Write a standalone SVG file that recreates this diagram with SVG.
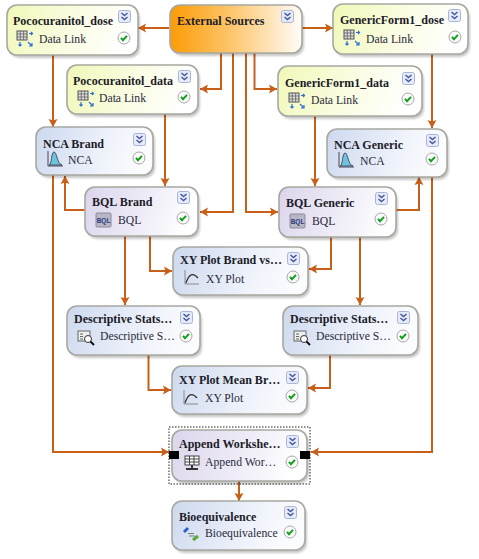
<svg xmlns="http://www.w3.org/2000/svg" width="479" height="559" viewBox="0 0 479 559">
<style>
.n{stroke:#a8a8a0;stroke-width:1.6}
.s{fill:#000;opacity:.22;filter:url(#blur)}
.t{font:bold 12px "Liberation Serif",serif;fill:#1c1c28}
.l{font:11.700px "Liberation Serif",serif;fill:#2a2a3c}
.c path{fill:none;stroke:#c8601a;stroke-width:2;marker-end:url(#a)}
</style>
<defs>
<filter id="blur" x="-10%" y="-10%" width="120%" height="120%"><feGaussianBlur stdDeviation="1.2"/></filter>
<marker id="a" markerUnits="userSpaceOnUse" markerWidth="10" markerHeight="10" refX="9" refY="5" orient="auto"><path d="M1 .5L9 5L1 9.500L2.500 5Z" fill="#c8601a"/></marker>
<linearGradient id="y" x1="0" y1="0" x2="1" y2="0.15"><stop offset="0" stop-color="#f1f8b8"/><stop offset=".6" stop-color="#fbfde6"/><stop offset="1" stop-color="#fff"/></linearGradient>
<linearGradient id="b" x1="0" y1="0" x2="1" y2="0.15"><stop offset="0" stop-color="#cdd9ef"/><stop offset=".7" stop-color="#f1f4fb"/><stop offset="1" stop-color="#fbfcfe"/></linearGradient>
<linearGradient id="p" x1="0" y1="0" x2="1" y2="0.15"><stop offset="0" stop-color="#dbd5ec"/><stop offset=".7" stop-color="#f3f1f9"/><stop offset="1" stop-color="#fff"/></linearGradient>
<linearGradient id="o" x1="0" y1="0" x2="1" y2="0"><stop offset="0" stop-color="#fb9c05"/><stop offset=".45" stop-color="#fdc469"/><stop offset="1" stop-color="#fffdf9"/></linearGradient>
<g id="x"><rect x=".5" y=".5" width="12" height="12" rx="2" fill="#e6ebf8" stroke="#a9b5d8"/><path d="M3.500 3L6.500 5.500L9.500 3M3.500 7L6.500 9.500L9.500 7" fill="none" stroke="#44559e" stroke-width="1.400"/></g>
<g id="k"><circle r="6" fill="#fafafa" stroke="#a8a8a8"/><path d="M-3-.2L-1 2.200L3-2.200" fill="none" stroke="#11a01e" stroke-width="2"/></g>
<g id="i-d"><rect x="0" y="0" width="10" height="9" fill="#ddd" stroke="#555"/><path d="M0 3H10M0 6H10M3.300 0V9M6.600 0V9" stroke="#555" stroke-width=".7"/><path d="M12 2.500h3M14 1l1.500 1.500L14 4M3 11v4M1.500 13.500L3 15L4.500 13.500M11 11l4 4M15 12v3h-3" fill="none" stroke="#2d6fd0" stroke-width="1.200"/></g>
<g id="i-n"><path d="M1 0V15H16" fill="none" stroke="#445" stroke-width="1"/><path d="M2 14C5 14 4 1 7 1C10 1 10 13 15 14Z" fill="#6fc3de" stroke="#334" stroke-width=".8"/></g>
<g id="i-b"><rect x="1" y="1" width="15" height="14" rx="1" fill="#b9b6c6" stroke="#8c8a99"/><text x="8.500" y="11" text-anchor="middle" style="font:bold 6.500px 'Liberation Sans',sans-serif;fill:#2b3a7e">BQL</text></g>
<g id="i-q"><path d="M1 0V14H15" fill="none" stroke="#888" stroke-width="1"/><path d="M2 13C5 4 9 2 14 8" fill="none" stroke="#333" stroke-width="1.200"/></g>
<g id="i-s"><rect x="0" y="0" width="12" height="10" fill="#eee" stroke="#666"/><path d="M2 3h3M2 5.500h3M2 8h3" stroke="#666"/><circle cx="10" cy="8" r="3.500" fill="#fff" stroke="#333"/><path d="M12.500 10.500L16 14" stroke="#111" stroke-width="2"/></g>
<g id="i-a"><rect x="1" y="0" width="14" height="9" fill="#fff" stroke="#444"/><path d="M1 3H15M1 6H15M5.500 0V9M10 0V9" stroke="#444"/><path d="M8 9v3M2 13H14" stroke="#333" stroke-width="2"/></g>
<g id="i-e"><path d="M1 6L5 2" stroke="#2f60d0" stroke-width="3"/><path d="M10 14L15 10" stroke="#5aa83a" stroke-width="3"/><path d="M5 7.500H11M6 10H12" stroke="#777"/></g>
</defs>
<g id="connectors" class="c">
<path d="M169 28H138"/>
<path d="M302 28H333"/>
<path d="M221 53V89H200"/>
<path d="M233 53V212H200"/>
<path d="M246 53V212H278"/>
<path d="M254.500 53V89H277"/>
<path d="M53 55V127"/>
<path d="M165 114V186"/>
<path d="M432 54V128"/>
<path d="M315 116V186"/>
<path d="M53 175V452H169"/>
<path d="M85 210H65V176"/>
<path d="M396 210H419V177"/>
<path d="M432 177V452H311"/>
<path d="M150 236V271H172"/>
<path d="M331 237V269H309"/>
<path d="M125 236V305"/>
<path d="M360 237V305"/>
<path d="M148.500 355V390H171"/>
<path d="M330 355V388H308"/>
<path d="M239 481V501"/>
</g>
<g id="pococuranitol-dose"><rect class="s" x="9" y="8" width="131" height="50" rx="10"/><rect class="n" x="7" y="5" width="131" height="50" rx="10" fill="url(#y)"/><text class="t" x="13" y="25">Pococuranitol_dose</text><use href="#i-d" x="17" y="31"/><text class="l" x="39" y="43">Data Link</text><use href="#x" x="118" y="10"/><use href="#k" x="124" y="38"/></g>
<g id="external-sources"><rect class="s" x="172" y="8" width="132" height="48" rx="10"/><rect class="n" x="170" y="5" width="132" height="48" rx="10" fill="url(#o)"/><text class="t" x="177" y="25">External Sources</text><use href="#x" x="281" y="10"/></g>
<g id="genericform1-dose"><rect class="s" x="335" y="7" width="135" height="50" rx="10"/><rect class="n" x="333" y="4" width="135" height="50" rx="10" fill="url(#y)"/><text class="t" x="340" y="24">GenericForm1_dose</text><use href="#i-d" x="344" y="30"/><text class="l" x="366" y="43">Data Link</text><use href="#x" x="448" y="9"/><use href="#k" x="455" y="37"/></g>
<g id="pococuranitol-data"><rect class="s" x="69" y="68" width="131" height="49" rx="10"/><rect class="n" x="67" y="65" width="131" height="49" rx="10" fill="url(#y)"/><text class="t" x="73" y="85">Pococuranitol_data</text><use href="#i-d" x="78" y="91"/><text class="l" x="99" y="102">Data Link</text><use href="#x" x="178" y="70"/><use href="#k" x="184" y="97"/></g>
<g id="genericform1-data"><rect class="s" x="280" y="69" width="144" height="50" rx="10"/><rect class="n" x="278" y="66" width="144" height="50" rx="10" fill="url(#y)"/><text class="t" x="285" y="87">GenericForm1_data</text><use href="#i-d" x="289" y="93"/><text class="l" x="311" y="104">Data Link</text><use href="#x" x="402" y="72"/><use href="#k" x="408" y="99"/></g>
<g id="nca-brand"><rect class="s" x="38" y="130" width="117" height="48" rx="10"/><rect class="n" x="36" y="127" width="117" height="48" rx="10" fill="url(#b)"/><text class="t" x="43" y="148">NCA Brand</text><use href="#i-n" x="47" y="151"/><text class="l" x="68" y="164">NCA</text><use href="#x" x="133" y="133"/><use href="#k" x="139" y="158"/></g>
<g id="nca-generic"><rect class="s" x="329" y="132" width="120" height="48" rx="10"/><rect class="n" x="327" y="129" width="120" height="48" rx="10" fill="url(#b)"/><text class="t" x="334" y="149">NCA Generic</text><use href="#i-n" x="338" y="152"/><text class="l" x="360" y="165">NCA</text><use href="#x" x="426" y="134"/><use href="#k" x="432" y="159"/></g>
<g id="bql-brand"><rect class="s" x="87" y="190" width="113" height="49" rx="10"/><rect class="n" x="85" y="187" width="113" height="49" rx="10" fill="url(#p)"/><text class="t" x="92" y="206">BQL Brand</text><use href="#i-b" x="95" y="212"/><text class="l" x="118" y="224">BQL</text><use href="#x" x="177" y="191"/><use href="#k" x="183" y="218"/></g>
<g id="bql-generic"><rect class="s" x="281" y="190" width="117" height="50" rx="10"/><rect class="n" x="279" y="187" width="117" height="50" rx="10" fill="url(#p)"/><text class="t" x="286" y="207">BQL Generic</text><use href="#i-b" x="289" y="213"/><text class="l" x="312" y="225">BQL</text><use href="#x" x="375" y="192"/><use href="#k" x="381" y="219"/></g>
<g id="xy-plot-brand"><rect class="s" x="175" y="250" width="135" height="48" rx="10"/><rect class="n" x="173" y="247" width="135" height="48" rx="10" fill="url(#b)"/><text class="t" x="180" y="264">XY Plot Brand vs…</text><use href="#i-q" x="184" y="270"/><text class="l" x="206" y="283">XY Plot</text><use href="#x" x="287" y="252"/><use href="#k" x="293" y="277"/></g>
<g id="descriptive-stats-brand"><rect class="s" x="69" y="309" width="133" height="49" rx="10"/><rect class="n" x="67" y="306" width="133" height="49" rx="10" fill="url(#b)"/><text class="t" x="74" y="323">Descriptive Stats…</text><use href="#i-s" x="78" y="331"/><text class="l" x="100" y="340">Descriptive S…</text><use href="#x" x="180" y="311"/><use href="#k" x="186" y="336"/></g>
<g id="descriptive-stats-generic"><rect class="s" x="285" y="309" width="135" height="49" rx="10"/><rect class="n" x="283" y="306" width="135" height="49" rx="10" fill="url(#b)"/><text class="t" x="290" y="323">Descriptive Stats…</text><use href="#i-s" x="294" y="331"/><text class="l" x="316" y="340">Descriptive S…</text><use href="#x" x="397" y="311"/><use href="#k" x="403" y="336"/></g>
<g id="xy-plot-mean"><rect class="s" x="174" y="369" width="135" height="48" rx="10"/><rect class="n" x="172" y="366" width="135" height="48" rx="10" fill="url(#b)"/><text class="t" x="179" y="384">XY Plot Mean Br…</text><use href="#i-q" x="183" y="390"/><text class="l" x="205" y="402">XY Plot</text><use href="#x" x="286" y="371"/><use href="#k" x="292" y="396"/></g>
<g id="append-worksheets"><rect class="s" x="174" y="433" width="135" height="51" rx="10"/><rect class="n" x="172" y="430" width="135" height="51" rx="10" fill="url(#p)"/><text class="t" x="179" y="448">Append Workshe…</text><use href="#i-a" x="184" y="456"/><text class="l" x="205" y="466">Append Wor…</text><use href="#x" x="286" y="435"/><use href="#k" x="292" y="462"/>
<rect x="169" y="427" width="141" height="57" fill="none" stroke="#222" stroke-width="1" stroke-dasharray="1.500 1.500"/><rect x="169" y="451" width="10" height="8"/><rect x="300" y="451" width="10" height="8"/></g>
<g id="bioequivalence"><rect class="s" x="174" y="504" width="133" height="49" rx="10"/><rect class="n" x="172" y="501" width="133" height="49" rx="10" fill="url(#b)"/><text class="t" x="179" y="521">Bioequivalence</text><use href="#i-e" x="183" y="526"/><text class="l" x="205" y="537">Bioequivalence</text><use href="#x" x="284" y="506"/><use href="#k" x="290" y="532"/></g>
</svg>
